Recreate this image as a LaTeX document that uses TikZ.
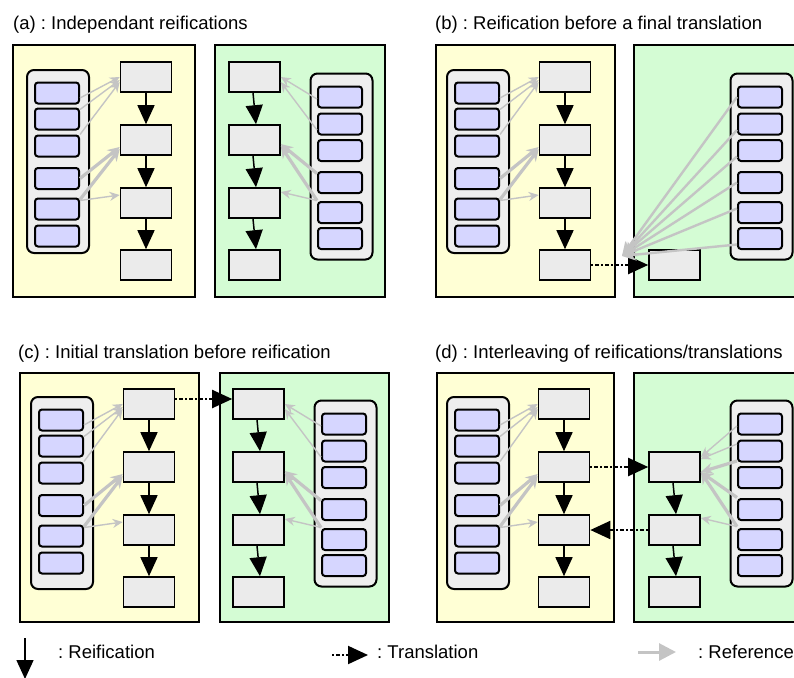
\documentclass[tikz,border=0pt]{standalone}
\usepackage{fontspec}
\setmainfont{Liberation Sans}
\usetikzlibrary{arrows.meta}
\frenchspacing
\definecolor{paneY}{HTML}{FFFFD5}
\definecolor{paneG}{HTML}{D4FCD4}
\definecolor{boxgrey}{HTML}{EBEBEB}
\definecolor{listgrey}{HTML}{EEEEEE}
\definecolor{itemblue}{HTML}{D6D6FF}
\definecolor{refgrey}{HTML}{C4C4C4}
\tikzset{
 panelY/.style={draw=black, line width=1.5pt, fill=paneY},
 panelG/.style={draw=black, line width=1.5pt, fill=paneG},
 container/.style={draw=black, line width=2pt, fill=listgrey, rounded corners=7pt, minimum width=62pt, inner sep=0pt},
 item/.style={draw=black, line width=2pt, fill=itemblue, rounded corners=3pt, minimum width=44pt, minimum height=21pt, inner sep=0pt},
 procbox/.style={draw=black, line width=1.6pt, fill=boxgrey, minimum width=51pt, minimum height=30pt, inner sep=0pt},
 reif/.style={draw=black, line width=1.5pt, -{Triangle[length=19pt,width=17pt]}},
 trans/.style={draw=black, line width=2pt, dash pattern=on 2pt off 2pt on 4pt off 2pt, -{Triangle[length=20pt,width=18pt]}},
 refthin/.style={draw=refgrey, line width=1.4pt, -{Stealth[length=10pt,width=9pt]}},
 refthick/.style={draw=refgrey, line width=3.2pt, -{Stealth[length=12pt,width=11pt]}},
 refmid/.style={draw=refgrey, line width=2.4pt, -{Stealth[length=14pt,width=12pt]}},
 reflegend/.style={draw=refgrey, line width=3pt, -{Triangle[length=17pt,width=17pt]}},
 title/.style={anchor=base west, inner sep=0pt, font=\fontsize{18.5}{22}\selectfont},
}
% left (yellow) list: prefix, dx, dy, container centre y, container height
\newcommand\ylist[5]{%
 \begin{scope}[shift={(#2,#3)}]
  \node[container, minimum height=#5pt] (#1c) at (58,#4) {};
  \node[item] (#11) at (57,93) {};
  \node[item] (#12) at (57,119) {};
  \node[item] (#13) at (57,146) {};
  \node[item] (#14) at (57,178.5) {};
  \node[item] (#15) at (57,209) {};
  \node[item] (#16) at (57,236) {};
 \end{scope}}
% right (green) list: prefix, dx, dy
\newcommand\glist[3]{%
 \begin{scope}[shift={(#2,#3)}]
  \node[container, minimum height=186pt] (#1c) at (341.5,166.5) {};
  \node[item] (#11) at (340,97) {};
  \node[item] (#12) at (340,124) {};
  \node[item] (#13) at (340,150.5) {};
  \node[item] (#14) at (340,182.5) {};
  \node[item] (#15) at (340,212.5) {};
  \node[item] (#16) at (340,238.5) {};
 \end{scope}}
% four process boxes: prefix, dx, dy, x centre
\newcommand\pboxes[4]{%
 \begin{scope}[shift={(#2,#3)}]
  \node[procbox] (#11) at (#4,77) {};
  \node[procbox] (#12) at (#4,140) {};
  \node[procbox] (#13) at (#4,203) {};
  \node[procbox] (#14) at (#4,265) {};
 \end{scope}}
% references, yellow side: list prefix, box prefix
\newcommand\yrefs[2]{%
 \draw[refthin] ([yshift=-5pt]#11.east) -- (#21.west);
 \draw[refthin] ([yshift=-2pt]#12.north east) -- ([yshift=-3pt]#21.west);
 \draw[refthin] (#13.north east) -- ([yshift=-5pt]#21.west);
 \draw[refthick] (#14.east) -- ([yshift=-7pt]#22.west);
 \draw[refthick] ([yshift=-2pt]#15.north east) -- ([yshift=-9pt]#22.west);
 \draw[refthin] ([yshift=-3pt]#15.north east) -- ([yshift=8pt]#23.west);
}
% references, green side (a),(c)
\newcommand\grefs[2]{%
 \draw[refthin] ([yshift=-2pt]#11.west) -- (#21.east);
 \draw[refthin] ([yshift=-6pt]#12.west) -- ([yshift=-5pt]#21.east);
 \draw[refthick] ([yshift=9pt]#14.west) -- ([yshift=-4pt]#22.east);
 \draw[refthick] ([yshift=12pt]#15.west) -- ([yshift=-6pt]#22.east);
 \draw[refthin] ([yshift=12pt]#15.west) -- ([yshift=11pt]#23.east);
}
\newcommand\yreifs[1]{%
 \draw[reif] (#11) -- (#12);
 \draw[reif] (#12) -- (#13);
 \draw[reif] (#13) -- (#14);
}
\newcommand\greifs[1]{%
 \draw[reif] ([xshift=-1.5pt]#11.south) -- ([xshift=1.5pt]#12.north);
 \draw[reif] ([xshift=-1.5pt]#12.south) -- ([xshift=1.5pt]#13.north);
 \draw[reif] ([xshift=-1.5pt]#13.south) -- ([xshift=1.5pt]#14.north);
}
\begin{document}
\begin{tikzpicture}[x=1pt,y=-1pt]
\useasboundingbox (0,0) rectangle (794,677);
% titles
\node[title] (ta) at (13,30) {(a) : Independant reifications};
\node[title] (tb) at (435,30) {(b) : Reification before a final translation};
\node[title] (tc) at (18,358) {(c) : Initial translation before reification};
\node[title] (td) at (435,358) {(d) : Interleaving of reifications/translations};
% panels
\draw[panelY] (13,45) rectangle (195,297);
\draw[panelG] (215,45) rectangle (385,297);
\draw[panelY] (436,45) rectangle (615,297);
\draw[panelG] (634,45) rectangle (800,297);
\draw[panelY] (20,373) rectangle (199,622);
\draw[panelG] (220,373) rectangle (389,622);
\draw[panelY] (437,373) rectangle (614,622);
\draw[panelG] (634,373) rectangle (800,622);
% lists
\ylist{aL}{0}{0}{161.5}{183}
\glist{aG}{0}{0}
\ylist{bL}{420}{0}{161.5}{183}
\glist{bG}{420}{0}
\ylist{cL}{4}{327}{166}{192}
\glist{cG}{4}{327}
\ylist{dL}{420}{327}{166}{192}
\glist{dG}{420}{327}
% process boxes
\pboxes{aY}{0}{0}{146}
\pboxes{aB}{0}{0}{254.5}
\pboxes{bY}{419}{0}{146}
\node[procbox] (bB4) at (674.5,265) {};
\pboxes{cY}{3}{327}{146}
\pboxes{cB}{4}{327}{254.5}
\pboxes{dY}{418}{327}{146}
\begin{scope}[shift={(420,327)}]
 \node[procbox] (dB2) at (254.5,140) {};
 \node[procbox] (dB3) at (254.5,203) {};
 \node[procbox] (dB4) at (254.5,265) {};
\end{scope}
% translations
\draw[trans] (bY4) -- (bB4);
\draw[trans] ([yshift=5pt]cY1.east) -- ([yshift=5pt]cB1.west);
\draw[trans] (dY2) -- (dB2);
\draw[trans] (dB3) -- (dY3);
% references
\yrefs{aL}{aY}
\grefs{aG}{aB}
\yrefs{bL}{bY}
\yrefs{cL}{cY}
\grefs{cG}{cB}
\yrefs{dL}{dY}
\coordinate (bT) at (622,256);
\draw[refmid] (bG1.west) -- (bT);
\draw[refmid] ([yshift=-6pt]bG2.west) -- (bT);
\draw[refmid] ([yshift=-6pt]bG3.west) -- (bT);
\draw[refmid] (bG4.west) -- (bT);
\draw[refmid] ([yshift=4pt]bG5.west) -- (bT);
\draw[refmid] ([yshift=-6pt]bG6.west) -- (bT);
\draw[refthin] ([yshift=-2pt]dG1.west) -- ([yshift=10pt]dB2.east);
\draw[refthin] ([yshift=7pt]dG2.west) -- ([yshift=8pt]dB2.east);
\draw[refthick] ([yshift=-10pt]dG2.west) -- ([yshift=-5pt]dB2.east);
\draw[refthick] ([yshift=12pt]dG4.west) -- ([yshift=-5pt]dB2.east);
\draw[refthick] ([yshift=13pt]dG5.west) -- ([yshift=-5pt]dB2.east);
\draw[refthin] ([yshift=13pt]dG5.west) -- ([yshift=12pt]dB3.east);
% reifications
\yreifs{aY}
\greifs{aB}
\yreifs{bY}
\yreifs{cY}
\greifs{cB}
\yreifs{dY}
\draw[reif] ([xshift=-1.5pt]dB2.south) -- ([xshift=1.5pt]dB3.north);
\draw[reif] ([xshift=-1.5pt]dB3.south) -- ([xshift=1.5pt]dB4.north);
% legend
\coordinate (lr1) at (25,638);
\coordinate (lr2) at (25,679);
\draw[reif] (lr1) -- (lr2);
\node[title] (lrt) at (58,658) {: Reification};
\coordinate (lt1) at (332,655);
\coordinate (lt2) at (368,655);
\draw[trans] (lt1) -- (lt2);
\node[title] (ltt) at (377,658) {: Translation};
\coordinate (lf1) at (638,652);
\coordinate (lf2) at (676,652);
\draw[reflegend] (lf1) -- (lf2);
\node[title] (lft) at (698,658) {: Reference};
\end{tikzpicture}
\end{document}
